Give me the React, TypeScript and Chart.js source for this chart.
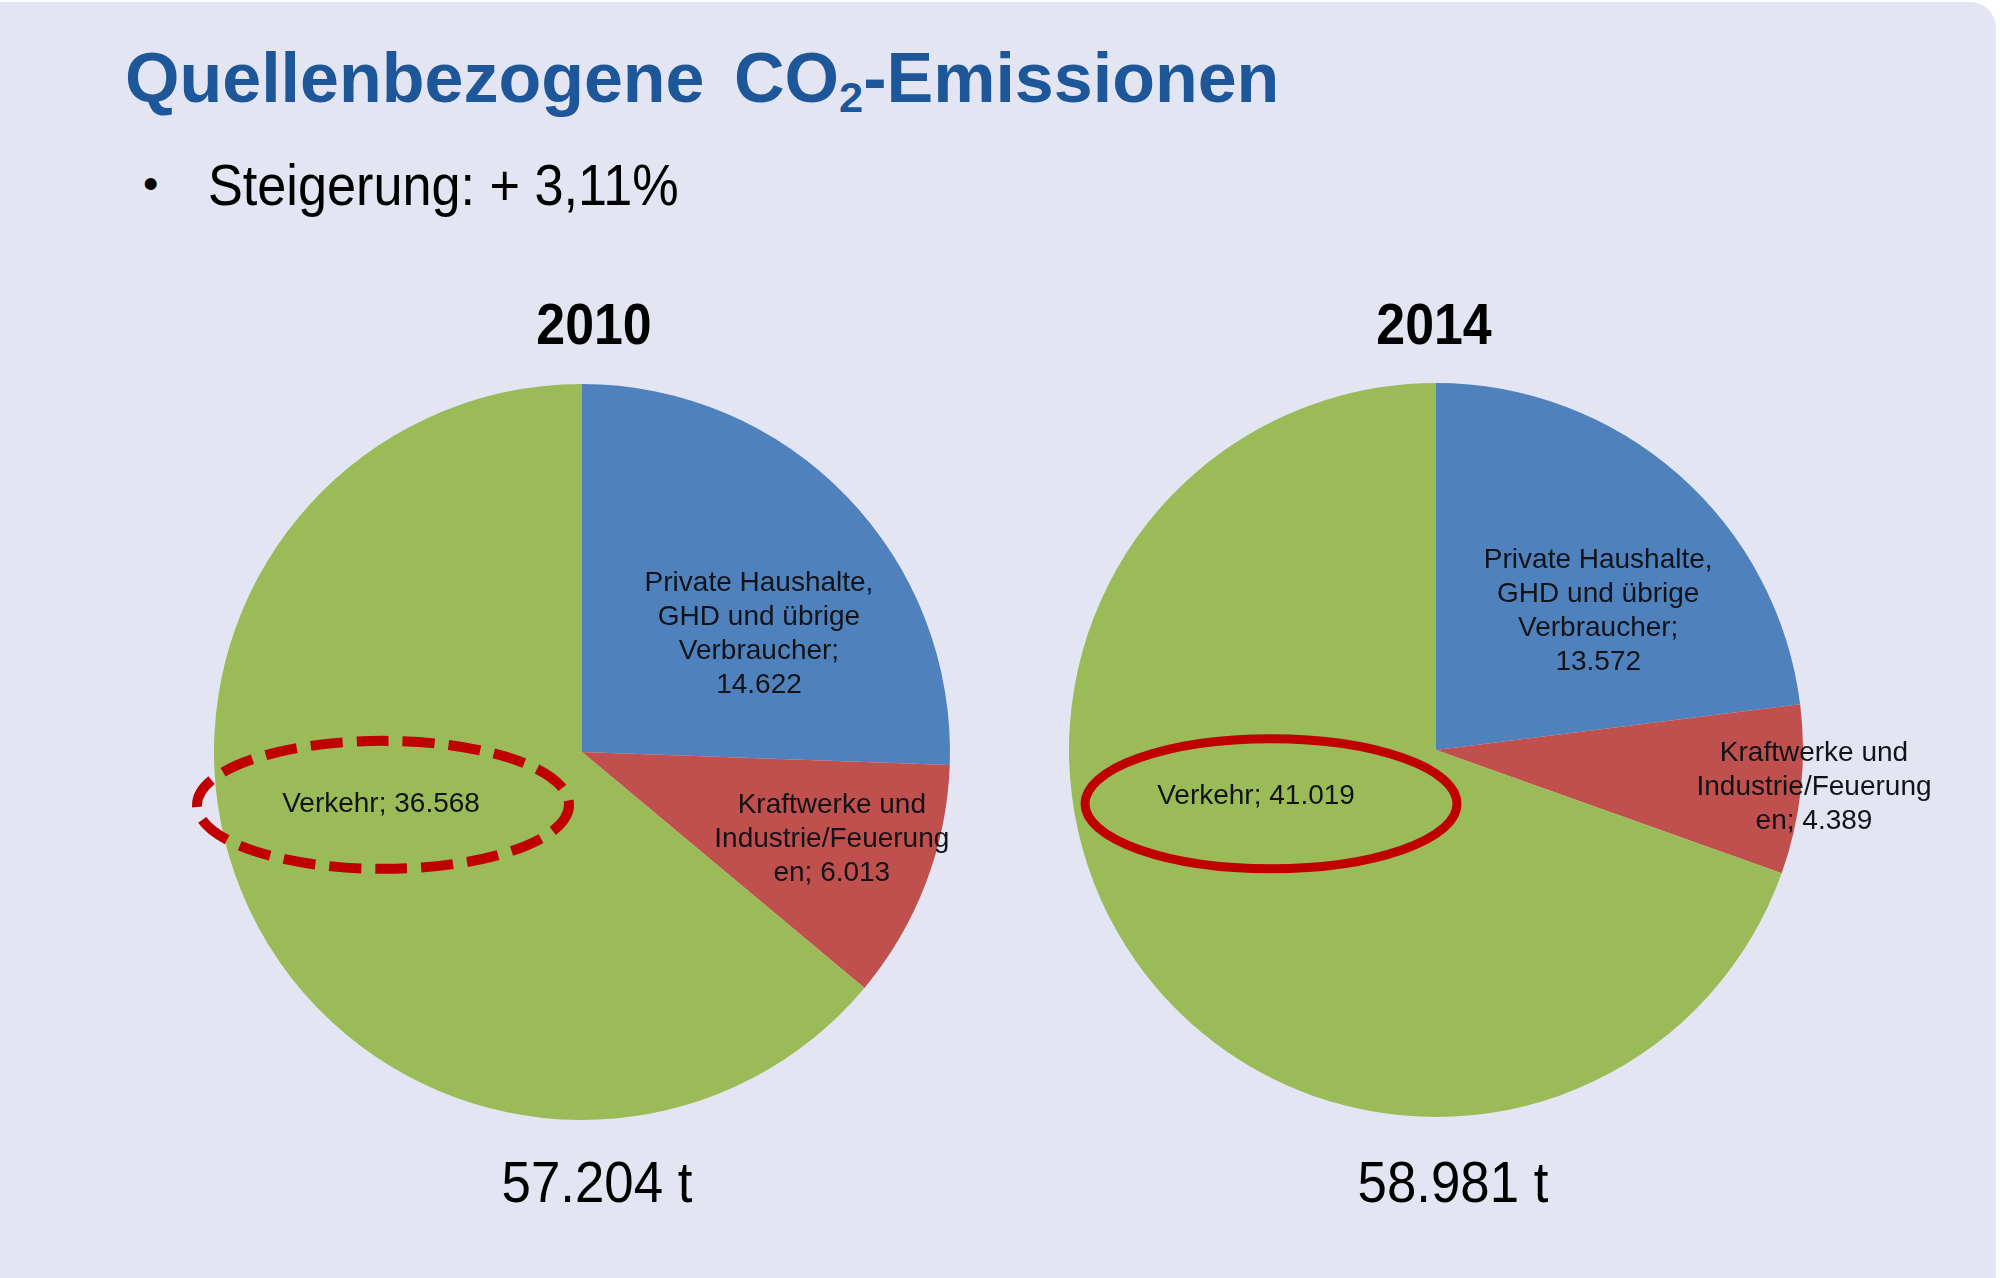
import React, { useEffect, useRef } from "react";
import { Chart, registerables } from "chart.js";

Chart.register(...registerables);

// ---------- data ----------
const years = ["2010", "2014"];
const categories = [
  "Private Haushalte, GHD und übrige Verbraucher",
  "Kraftwerke und Industrie/Feuerungen",
  "Verkehr",
];
const values2010 = [14622, 6013, 36568];
const values2014 = [13572, 4389, 41019];
const totals = ["57.204 t", "58.981 t"];
const titleMain = "Quellenbezogene CO";
const titleSub = "2";
const titleEnd = "-Emissionen";
const bulletText = "Steigerung: + 3,11%";
// label text templates per category ({v} = value)
const labelTemplates = [
  ["Private Haushalte,", "GHD und übrige", "Verbraucher;", "{v}"],
  ["Kraftwerke und", "Industrie/Feuerung", "en; {v}"],
  ["Verkehr; {v}"],
];
const sliceColors = ["#4F81BD", "#C0504D", "#9BBB59"];

// ---------- layout / style config ----------
const BG = "#E3E6F2";
const FONT = '"Liberation Sans", Arial, Helvetica, sans-serif';
const CANVAS_W = 1040;
const CANVAS_H = 800;

type Anchor = { f: number; da: number };
type EllipseCfg = { index: number; dx: number; dy: number; rx: number; ry: number; dash: number[]; width: number };

const pieConfigs: {
  cx: number;
  cy: number;
  radius: number;
  values: number[];
  anchors: Anchor[];
  ellipse: EllipseCfg;
}[] = [
  {
    cx: 582,
    cy: 752,
    radius: 368,
    values: values2010,
    anchors: [
      { f: 0.578, da: 10.3 },
      { f: 0.719, da: -1.7 },
      { f: 0.564, da: 10.6 },
    ],
    ellipse: { index: 2, dx: 2, dy: 1, rx: 186, ry: 64, dash: [32, 14], width: 10 },
  },
  {
    cx: 1436,
    cy: 750,
    radius: 367,
    values: values2014,
    anchors: [
      { f: 0.582, da: 8.0 },
      { f: 1.035, da: -0.6 },
      { f: 0.506, da: 20.9 },
    ],
    ellipse: { index: 2, dx: 15, dy: 8, rx: 186, ry: 65, dash: [], width: 9 },
  },
];

const fmt = (n: number) => n.toLocaleString("de-DE");

function PieChart({ idx }: { idx: number }) {
  const ref = useRef<HTMLCanvasElement | null>(null);
  const cfg = pieConfigs[idx];

  useEffect(() => {
    if (!ref.current) return;
    const lines = labelTemplates.map((tpl, i) =>
      tpl.map((t) => t.replace("{v}", fmt(cfg.values[i])))
    );
    const labelPlugin = {
      id: "sliceLabels" + idx,
      afterDatasetsDraw(chart: any) {
        const ctx = chart.ctx as CanvasRenderingContext2D;
        const meta = chart.getDatasetMeta(0);
        meta.data.forEach((arc: any, i: number) => {
          const p = arc.getProps(["x", "y", "startAngle", "endAngle", "outerRadius"], true);
          const an = cfg.anchors[i];
          const a = (p.startAngle + p.endAngle) / 2 + (an.da * Math.PI) / 180;
          const r = p.outerRadius * an.f;
          const lx = p.x + r * Math.cos(a);
          const ly = p.y + r * Math.sin(a);
          ctx.save();
          ctx.font = `28px ${FONT}`;
          ctx.fillStyle = "#111318";
          ctx.textAlign = "center";
          ctx.textBaseline = "middle";
          const lh = 34;
          const ls = lines[i];
          ls.forEach((ln, k) => {
            ctx.fillText(ln, lx, ly + (k - (ls.length - 1) / 2) * lh);
          });
          const el = cfg.ellipse;
          if (el && el.index === i) {
            ctx.beginPath();
            ctx.ellipse(lx + el.dx, ly + el.dy, el.rx, el.ry, 0, 0, Math.PI * 2);
            ctx.strokeStyle = "#C00000";
            ctx.lineWidth = el.width;
            ctx.setLineDash(el.dash);
            ctx.stroke();
          }
          ctx.restore();
        });
      },
    };
    const chart = new Chart(ref.current, {
      type: "pie",
      data: {
        labels: categories,
        datasets: [
          {
            data: cfg.values,
            backgroundColor: sliceColors,
            borderWidth: 0,
            hoverOffset: 0,
            offset: 0,
          } as any,
        ],
      },
      options: {
        animation: false,
        responsive: false,
        devicePixelRatio: 1,
        radius: cfg.radius,
        layout: { padding: 0 },
        events: [],
        plugins: {
          legend: { display: false },
          tooltip: { enabled: false },
          title: { display: false },
        },
      } as any,
      plugins: [labelPlugin],
    });
    return () => chart.destroy();
  }, [idx]);

  return (
    <canvas
      ref={ref}
      width={CANVAS_W}
      height={CANVAS_H}
      style={{
        position: "absolute",
        left: cfg.cx - CANVAS_W / 2,
        top: cfg.cy - CANVAS_H / 2,
        width: CANVAS_W,
        height: CANVAS_H,
      }}
    />
  );
}

function Text({
  children,
  cx,
  left,
  baseline,
  size,
  bold,
  color = "#000",
  sx = 1,
  style = {},
}: any) {
  const top = baseline - size * 0.8465;
  const centered = cx !== undefined;
  return (
    <div
      style={{
        position: "absolute",
        left: centered ? cx : left,
        top,
        fontFamily: FONT,
        fontSize: size,
        lineHeight: `${size}px`,
        fontWeight: bold ? 700 : 400,
        color,
        whiteSpace: "nowrap",
        transform: centered ? `translateX(-50%) scaleX(${sx})` : `scaleX(${sx})`,
        transformOrigin: centered ? "50% 50%" : "0 50%",
        ...style,
      }}
    >
      {children}
    </div>
  );
}

export default function App() {
  useEffect(() => {
    document.body.style.margin = "0";
    document.body.style.background = "#ffffff";
  }, []);
  return (
    <div
      style={{
        position: "absolute",
        left: 0,
        top: 0,
        width: 2000,
        height: 1278,
        overflow: "hidden",
        background: "#ffffff",
      }}
    >
      <div
        style={{
          position: "absolute",
          left: 0,
          top: 2,
          width: 1996,
          height: 1276,
          background: BG,
          borderTopRightRadius: 26,
        }}
      />
      <Text left={125} baseline={102} size={70} bold color="#1E5799" style={{ wordSpacing: 10 }}>
        {titleMain}
        <span style={{ fontSize: "0.62em", verticalAlign: "-0.22em" }}>{titleSub}</span>
        {titleEnd}
      </Text>
      <Text left={143} baseline={199} size={44}>
        {"•"}
      </Text>
      <Text left={208} baseline={205} size={58} sx={0.9}>
        {bulletText}
      </Text>
      <Text cx={594} baseline={344} size={57} bold sx={0.91}>
        {years[0]}
      </Text>
      <Text cx={1434} baseline={344} size={57} bold sx={0.91}>
        {years[1]}
      </Text>
      <PieChart idx={0} />
      <PieChart idx={1} />
      <Text cx={597} baseline={1202} size={58} sx={0.91}>
        {totals[0]}
      </Text>
      <Text cx={1453} baseline={1202} size={58} sx={0.91}>
        {totals[1]}
      </Text>
    </div>
  );
}
